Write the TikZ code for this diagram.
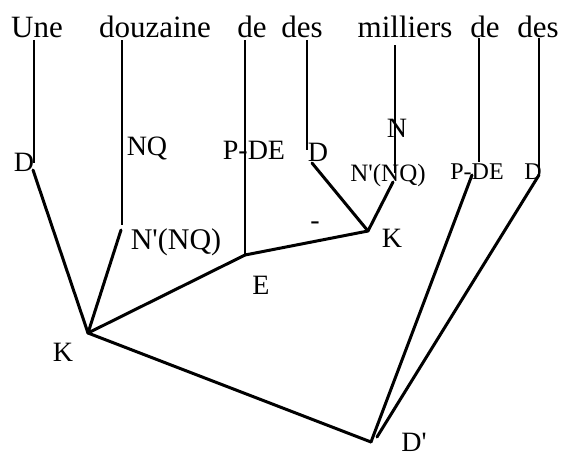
\documentclass[tikz,border=0pt]{standalone}
\usepackage{fontspec}
\setmainfont{Liberation Serif}
\newfontfamily\rawfont{Liberation Serif}
\newcommand{\pr}{{\rawfont '}}
\begin{document}
\begin{tikzpicture}[x=1pt,y=-1pt,
  word/.style={inner sep=0pt,anchor=base,font=\fontsize{31}{31}\selectfont},
  lab/.style={inner sep=0pt,font=\fontsize{28}{28}\selectfont},
  slab/.style={inner sep=0pt,font=\fontsize{24}{24}\selectfont},
  vline/.style={line width=2.4pt},
  dline/.style={line width=3pt,line cap=round,line join=round}]
\useasboundingbox (0,0) rectangle (571,456);
% top words
\node[word] (w1) at (37,37) {Une};
\node[word] (w2) at (155,37) {douzaine};
\node[word] (w3) at (252,37) {de};
\node[word] (w4) at (302,37) {des};
\node[word] (w5) at (405,37) {milliers};
\node[word] (w6) at (485,37) {de};
\node[word] (w7) at (538,37) {des};
% labels
\node[lab] (lD1) at (24,162) {D};
\node[lab] (lNQ) at (147,148) {NQ};
\node[lab] (lPDE1) at (254,150) {P-DE};
\node[lab] (lD2) at (318,152) {D};
\node[lab] (lN) at (397,128) {N};
\node[slab,font=\fontsize{25}{25}\selectfont] (lNp2) at (388,175) {N\pr(NQ)};
\node[slab] (lPDE2) at (477,172) {P-DE};
\node[slab] (lD3) at (533,172) {D};
\node[lab,font=\fontsize{30}{30}\selectfont] (lNp1) at (176,242) {N\pr(NQ)};
\node[lab] (lE) at (261,285) {E};
\node[lab] (lK1) at (63,352) {K};
\node[lab] (lK2) at (392,238) {K};
\node[lab] (lminus) at (315,226) {-};
\node[lab] (lDp) at (414,442) {D\pr};
% coordinates
\coordinate (a1) at (34,40);   \coordinate (b1) at (34,163);  \coordinate (c1) at (33,170);
\coordinate (a2) at (122,40);  \coordinate (b2) at (122,225); \coordinate (c2) at (121,230);
\coordinate (a3) at (245,40);  \coordinate (E) at (245,255);
\coordinate (a4) at (307,40);  \coordinate (b4) at (307,150); \coordinate (c4) at (312,163);
\coordinate (a5) at (395,45);  \coordinate (b5) at (395,173); \coordinate (c5) at (393,182);
\coordinate (a6) at (479,38);  \coordinate (b6) at (479,162); \coordinate (c6) at (472,175);
\coordinate (a7) at (539,38);  \coordinate (b7) at (539,175);
\coordinate (K1) at (88,333);
\coordinate (K2) at (368,231);
\coordinate (Dp) at (371,442);
\coordinate (Dq) at (377,437);
% verticals
\draw[vline] (a1) -- (b1);
\draw[vline] (a2) -- (b2);
\draw[vline] (a3) -- (E);
\draw[vline] (a4) -- (b4);
\draw[vline] (a5) -- (b5);
\draw[vline] (a6) -- (b6);
\draw[vline] (a7) -- (b7);
% diagonals
\draw[dline] (c1) -- (K1);
\draw[dline] (c2) -- (K1);
\draw[dline] (K1) -- (E);
\draw[dline] (E) -- (K2);
\draw[dline] (c4) -- (K2);
\draw[dline] (c5) -- (K2);
\draw[dline] (K1) -- (Dp);
\draw[dline] (c6) -- (Dp);
\draw[dline] (b7) -- (Dq);
\end{tikzpicture}
\end{document}
